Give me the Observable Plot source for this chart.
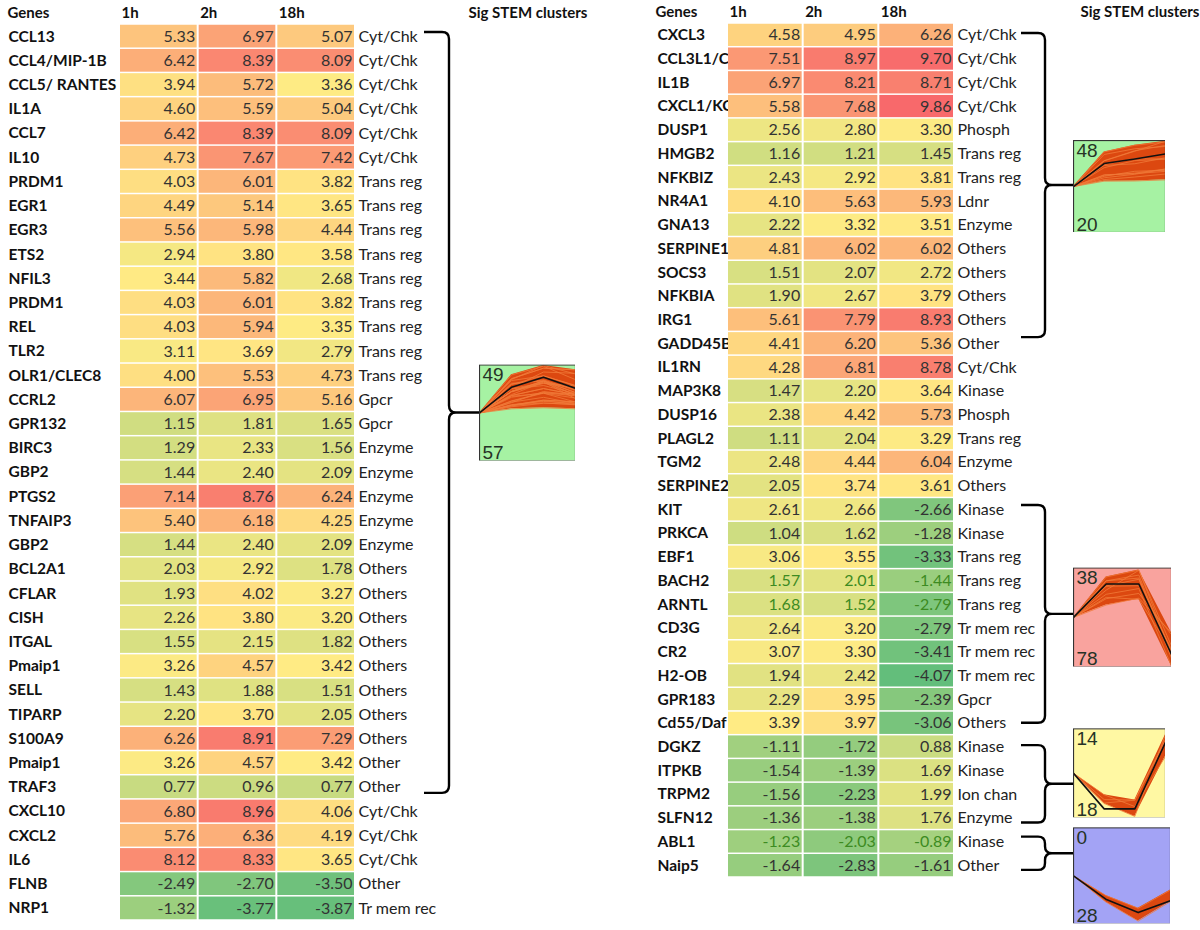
<!DOCTYPE html>
<html><head><meta charset="utf-8">
<script src="https://cdn.jsdelivr.net/npm/d3@7"></script>
<script src="https://cdn.jsdelivr.net/npm/@observablehq/plot@0.6"></script>
<style>
body{margin:0;background:#fff;}
#wrap{display:flex;width:1200px;height:930px;overflow:hidden;}
</style></head><body><div id="wrap"></div>
<script>
// ---------- data ----------
const times = ["1h","2h","18h"];

const genesL = ["CCL13","CCL4/MIP-1B","CCL5/ RANTES","IL1A","CCL7","IL10","PRDM1","EGR1","EGR3","ETS2","NFIL3","PRDM1","REL","TLR2","OLR1/CLEC8","CCRL2","GPR132","BIRC3","GBP2","PTGS2","TNFAIP3","GBP2","BCL2A1","CFLAR","CISH","ITGAL","Pmaip1","SELL","TIPARP","S100A9","Pmaip1","TRAF3","CXCL10","CXCL2","IL6","FLNB","NRP1"];
const h1L = [5.33,6.42,3.94,4.60,6.42,4.73,4.03,4.49,5.56,2.94,3.44,4.03,4.03,3.11,4.00,6.07,1.15,1.29,1.44,7.14,5.40,1.44,2.03,1.93,2.26,1.55,3.26,1.43,2.20,6.26,3.26,0.77,6.80,5.76,8.12,-2.49,-1.32];
const h2L = [6.97,8.39,5.72,5.59,8.39,7.67,6.01,5.14,5.98,3.80,5.82,6.01,5.94,3.69,5.53,6.95,1.81,2.33,2.40,8.76,6.18,2.40,2.92,4.02,3.80,2.15,4.57,1.88,3.70,8.91,4.57,0.96,8.96,6.36,8.33,-2.70,-3.77];
const h18L = [5.07,8.09,3.36,5.04,8.09,7.42,3.82,3.65,4.44,3.58,2.68,3.82,3.35,2.79,4.73,5.16,1.65,1.56,2.09,6.24,4.25,2.09,1.78,3.27,3.20,1.82,3.42,1.51,2.05,7.29,3.42,0.77,4.06,4.19,3.65,-3.50,-3.87];
const catL = ["Cyt/Chk","Cyt/Chk","Cyt/Chk","Cyt/Chk","Cyt/Chk","Cyt/Chk","Trans reg","Trans reg","Trans reg","Trans reg","Trans reg","Trans reg","Trans reg","Trans reg","Trans reg","Gpcr","Gpcr","Enzyme","Enzyme","Enzyme","Enzyme","Enzyme","Others","Others","Others","Others","Others","Others","Others","Others","Other","Other","Cyt/Chk","Cyt/Chk","Cyt/Chk","Other","Tr mem rec"];

const genesR = ["CXCL3","CCL3L1/CCL3","IL1B","CXCL1/KC","DUSP1","HMGB2","NFKBIZ","NR4A1","GNA13","SERPINE1","SOCS3","NFKBIA","IRG1","GADD45B","IL1RN","MAP3K8","DUSP16","PLAGL2","TGM2","SERPINE2","KIT","PRKCA","EBF1","BACH2","ARNTL","CD3G","CR2","H2-OB","GPR183","Cd55/Daf","DGKZ","ITPKB","TRPM2","SLFN12","ABL1","Naip5"];
const h1R = [4.58,7.51,6.97,5.58,2.56,1.16,2.43,4.10,2.22,4.81,1.51,1.90,5.61,4.41,4.28,1.47,2.38,1.11,2.48,2.05,2.61,1.04,3.06,1.57,1.68,2.64,3.07,1.94,2.29,3.39,-1.11,-1.54,-1.56,-1.36,-1.23,-1.64];
const h2R = [4.95,8.97,8.21,7.68,2.80,1.21,2.92,5.63,3.32,6.02,2.07,2.67,7.79,6.20,6.81,2.20,4.42,2.04,4.44,3.74,2.66,1.62,3.55,2.01,1.52,3.20,3.30,2.42,3.95,3.97,-1.72,-1.39,-2.23,-1.38,-2.03,-2.83];
const h18R = [6.26,9.70,8.71,9.86,3.30,1.45,3.81,5.93,3.51,6.02,2.72,3.79,8.93,5.36,8.78,3.64,5.73,3.29,6.04,3.61,-2.66,-1.28,-3.33,-1.44,-2.79,-2.79,-3.41,-4.07,-2.39,-3.06,0.88,1.69,1.99,1.76,-0.89,-1.61];
const catR = ["Cyt/Chk","Cyt/Chk","Cyt/Chk","Cyt/Chk","Phosph","Trans reg","Trans reg","Ldnr","Enzyme","Others","Others","Others","Others","Other","Cyt/Chk","Kinase","Phosph","Trans reg","Enzyme","Others","Kinase","Kinase","Trans reg","Trans reg","Trans reg","Tr mem rec","Tr mem rec","Tr mem rec","Gpcr","Others","Kinase","Kinase","Ion chan","Enzyme","Kinase","Other"];

const greenTextGenes = ["BACH2","ARNTL","ABL1"];

// STEM cluster labels and model profiles (0, 1h, 2h, 18h)
const clusterTopLabels = ["49","48","38","14","0"];
const clusterBottomLabels = ["57","20","78","18","28"];
const modelL1 = [0, 4.8, 6.7, 4.6];
const modelR1 = [0, 5.0, 6.0, 7.1];
const modelR2 = [0, 2.8, 2.8, -3.1];
const modelR3 = [0, -1.84, -1.84, 1.6];
const modelR4 = [0, -1.46, -2.3, -1.56];

// ---------- layout / style ----------
const FONT = "Lato, 'Open Sans', sans-serif";
const colorOpts = {type: "linear", domain: [-4.07, 3.4, 9.86], range: ["#63BE7B", "#FFEB84", "#F8696B"], interpolate: "rgb"};

const panelL = {genes: genesL, h1: h1L, h2: h2L, h18: h18L, cats: catL,
  x0: 119, x1: 355, y0: 24, y1: 920, nameDx: -111, genesDx: -112, stemDx: 113,
  hook: 69, vert: 94, tip: 124,
  clusters: [{a: 0, b: 31, span: [0.33, 31.75], top: clusterTopLabels[0], bottom: clusterBottomLabels[0], bg: "#A6F2A3", lim: 9.0, model: modelL1, w: 96, h: 96, off: 0}]};
const panelR = {genes: genesR, h1: h1R, h2: h2R, h18: h18R, cats: catR,
  x0: 127, x1: 354, y0: 23, y1: 877, nameDx: -70, genesDx: -72, stemDx: 126,
  hook: 67, vert: 91, tip: 119,
  clusters: [
    {a: 0, b: 12, span: [0.42, 13.24], top: clusterTopLabels[1], bottom: clusterBottomLabels[1], bg: "#A6F2A3", lim: 10, model: modelR1, w: 92, h: 92, off: 1},
    {a: 20, b: 29, span: [20.32, 29.5], top: clusterTopLabels[2], bottom: clusterBottomLabels[2], bg: "#F9A39E", lim: 4.15, model: modelR2, w: 98, h: 99, off: 3},
    {a: 30, b: 33, span: [30.44, 33.7], top: clusterTopLabels[3], bottom: clusterBottomLabels[3], bg: "#FFF8A3", lim: 2.3, model: modelR3, w: 92, h: 89, off: -11},
    {a: 34, b: 35, span: [34.3, 35.7], top: clusterTopLabels[4], bottom: clusterBottomLabels[4], bg: "#A3A3F5", lim: 3.0, model: modelR4, w: 97, h: 96, off: 22}
  ]};

function thumb(cl, rows) {
  const prof = rows.slice(cl.a, cl.b + 1).map(r => [0, ...r.v]);
  const lines = prof.flatMap((p, k) => p.map((v, t) => ({k, t, v})));
  const band = [0, 1, 2, 3].map(t => ({t, lo: d3.min(prof, p => p[t]), hi: d3.max(prof, p => p[t])}));
  const model = cl.model.map((v, t) => ({t, v}));
  return Plot.plot({
    width: cl.w, height: cl.h, margin: 0,
    x: {domain: [0, 3], range: [0, cl.w], axis: null},
    y: {domain: [-cl.lim, cl.lim], range: [cl.h, 0], axis: null},
    marks: [
      Plot.frame({fill: cl.bg}),
      Plot.areaY(band, {x: "t", y1: "lo", y2: "hi", fill: "#DC4810"}),
      Plot.line(lines, {x: "t", y: "v", z: "k", stroke: "#F07A3A", strokeWidth: 1, strokeOpacity: 0.8}),
      Plot.line(model, {x: "t", y: "v", stroke: "#111", strokeWidth: 1.6}),
      Plot.frame({stroke: "#333", strokeWidth: 1.2}),
      Plot.text([cl.top], {frameAnchor: "top-left", dx: 3, dy: 3, text: d => d, lineAnchor: "top", fontSize: 19, fill: "#263226", fontFamily: "'Liberation Sans', Arial, sans-serif"}),
      Plot.text([cl.bottom], {frameAnchor: "bottom-left", dx: 3, dy: -2, text: d => d, lineAnchor: "bottom", fontSize: 19, fill: "#263226", fontFamily: "'Liberation Sans', Arial, sans-serif"})
    ]
  });
}

function buildPanel(P) {
  const n = P.genes.length;
  const rows = P.genes.map((g, i) => ({i, gene: g, cat: P.cats[i], v: [P.h1[i], P.h2[i], P.h18[i]]}));
  const cells = rows.flatMap(r => r.v.map((v, j) => ({i: r.i, j, v, green: greenTextGenes.includes(r.gene)})));
  const sx = d3.scaleLinear([0, 3], [P.x0, P.x1]);
  const sy = d3.scaleLinear([0, n], [P.y0, P.y1]);

  const braces = P.clusters.map(cl => (index, scales) => {
    const X = (scales && typeof scales.x === "function") ? scales.x : sx;
    const Y = (scales && typeof scales.y === "function") ? scales.y : sy;
    const xr = X(3), xh = xr + P.hook, xv = xr + P.vert, xt = xr + P.tip;
    const yt = Y(cl.span[0]), yb = Y(cl.span[1]), ym = (yt + yb) / 2;
    const r = Math.min(7, (yb - yt) / 4);
    const d = `M${xh},${yt}H${xv - r}Q${xv},${yt} ${xv},${yt + r}V${ym - r}Q${xv},${ym} ${xv + r},${ym}H${xt}` +
              `M${xv + r},${ym}Q${xv},${ym} ${xv},${ym + r}V${yb - r}Q${xv},${yb} ${xv - r},${yb}H${xh}`;
    return d3.create("svg:path").attr("d", d).attr("fill", "none").attr("stroke", "#000").attr("stroke-width", 2.4).node();
  });

  const svg = Plot.plot({
    width: 600, height: 930, margin: 0,
    style: {fontFamily: FONT, background: "#fff"},
    x: {domain: [0, 3], range: [P.x0, P.x1], axis: null},
    y: {domain: [0, n], range: [P.y0, P.y1], axis: null},
    color: colorOpts,
    marks: [
      // headers
      Plot.text(["Genes"], {x: 0, y: 0, dx: P.genesDx, dy: -11, text: d => d, textAnchor: "start", fontWeight: "bold", fontSize: 15, fill: "#111"}),
      Plot.text(times, {x: (d, j) => j, y: 0, dx: 2, dy: -11, text: d => d, textAnchor: "start", fontWeight: "bold", fontSize: 15, fill: "#111"}),
      Plot.text(["Sig STEM clusters"], {x: 3, y: 0, dx: P.stemDx, dy: -11, text: d => d, textAnchor: "start", fontWeight: "bold", fontSize: 15, fill: "#111"}),
      // gene names (drawn under cells so long names are clipped)
      Plot.text(rows, {x: 0, y: d => d.i + 0.5, dx: P.nameDx, text: "gene", textAnchor: "start", fontWeight: "bold", fontSize: 15.5, fill: "#111"}),
      // heat cells
      Plot.rect(cells, {x1: "j", x2: d => d.j + 1, y1: "i", y2: d => d.i + 1, fill: "v", insetLeft: 1, insetRight: 1, insetTop: 0.75, insetBottom: 0.75}),
      // values
      Plot.text(cells, {x: d => d.j + 1, y: d => d.i + 0.5, dx: -3, text: d => d.v.toFixed(2), textAnchor: "end", fontSize: 16, fill: d => d.green ? "#3d8b22" : "#333"}),
      // categories
      Plot.text(rows, {x: 3, y: d => d.i + 0.5, dx: 3, text: "cat", textAnchor: "start", fontSize: 16, fill: "#222"}),
      ...braces
    ]
  });

  P.clusters.forEach(cl => {
    const t = thumb(cl, rows);
    const xt = sx(3) + P.tip;
    const ym = (sy(cl.span[0]) + sy(cl.span[1])) / 2;
    t.removeAttribute("class");
    t.removeAttribute("style");
    t.setAttribute("x", xt);
    t.setAttribute("y", ym - cl.h / 2 + cl.off);
    t.setAttribute("overflow", "hidden");
    svg.appendChild(t);
  });
  return svg;
}

const wrap = document.getElementById("wrap");
wrap.appendChild(buildPanel(panelL));
wrap.appendChild(buildPanel(panelR));
</script>
</body></html>
